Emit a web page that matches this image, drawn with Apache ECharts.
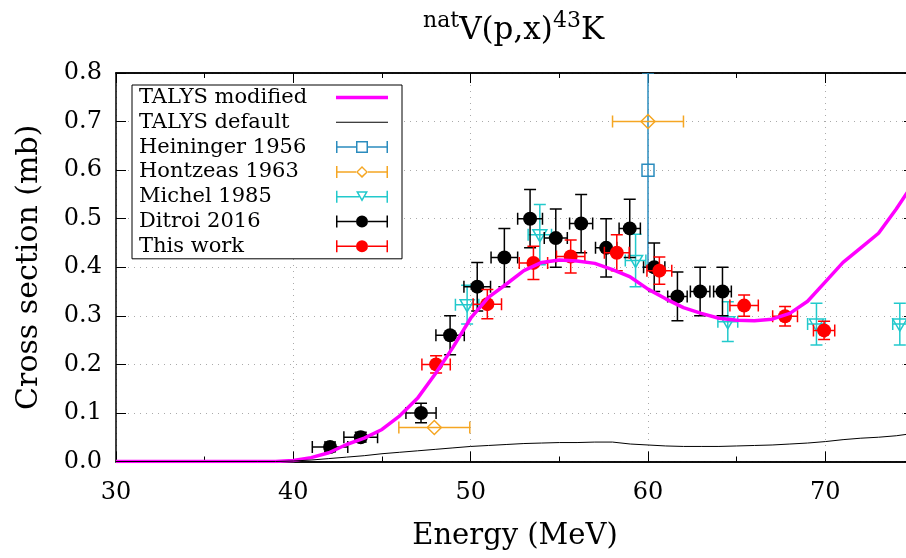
<!DOCTYPE html>
<html>
<head>
<meta charset="utf-8">
<title>natV(p,x)43K</title>
<script src="https://cdn.jsdelivr.net/npm/echarts@6.0.0/dist/echarts.min.js"></script>
<style>
  html, body { margin: 0; padding: 0; background: #fff; }
  #chart { width: 906px; height: 558px; }
</style>
</head>
<body>
<div id="chart"></div>
<script>
// curves: [energy MeV, cross section mb]
const talysModified = [
  [30, 0], [35, 0], [38, 0], [39, 0], [40, 0.002], [41, 0.008], [42, 0.018],
  [43, 0.035], [44, 0.048], [45, 0.066], [46, 0.094], [47, 0.13], [48, 0.18],
  [49, 0.235], [50, 0.295], [51, 0.338], [52, 0.365], [53, 0.393], [54, 0.41],
  [55, 0.415], [56, 0.413], [57, 0.408], [58, 0.395], [59, 0.38], [60, 0.355],
  [61, 0.335], [62, 0.317], [63, 0.305], [64, 0.295], [65, 0.291], [66, 0.29],
  [67, 0.293], [68, 0.305], [69, 0.33], [70, 0.37], [71, 0.41], [72, 0.44],
  [73, 0.47], [74, 0.52], [75, 0.575]
];
const talysDefault = [
  [30, 0], [38, 0], [39, 0], [40, 0.001], [41, 0.003], [42, 0.006], [43, 0.009],
  [44, 0.012], [45, 0.016], [46, 0.019], [47, 0.022], [48, 0.025], [49, 0.028],
  [50, 0.031], [51, 0.033], [52, 0.035], [53, 0.037], [54, 0.038], [55, 0.039],
  [56, 0.039], [57, 0.04], [58, 0.04], [59, 0.036], [60, 0.034], [61, 0.032],
  [62, 0.031], [63, 0.031], [64, 0.031], [65, 0.032], [66, 0.033], [67, 0.034],
  [68, 0.036], [69, 0.038], [70, 0.041], [71, 0.045], [72, 0.048], [73, 0.05],
  [74, 0.053], [75, 0.058]
];

// experiments: [energy, cross section, dE, dSigma]
const heininger1956 = [[60.0, 0.60, 0, 0.20]];
const hontzeas1963 = [[47.95, 0.07, 2.0, 0], [60.0, 0.70, 2.0, 0]];
const michel1985 = [
  [49.8, 0.323, 0.66, 0.04], [53.9, 0.467, 0.66, 0.062], [59.3, 0.414, 0.58, 0.054],
  [64.5, 0.288, 0.56, 0.041], [69.5, 0.283, 0.5, 0.043], [74.2, 0.283, 0.4, 0.043]
];
const ditroi2016 = [
  [42.07, 0.03, 1.0, 0.01], [43.8, 0.05, 0.95, 0.01], [47.2, 0.10, 0.85, 0.02],
  [48.84, 0.26, 0.8, 0.04], [50.37, 0.36, 0.75, 0.05], [51.9, 0.42, 0.75, 0.06],
  [53.35, 0.50, 0.7, 0.06], [54.8, 0.46, 0.65, 0.06], [56.23, 0.49, 0.65, 0.06],
  [57.64, 0.44, 0.6, 0.06], [58.97, 0.48, 0.6, 0.06], [60.35, 0.40, 0.6, 0.05],
  [61.66, 0.34, 0.55, 0.05], [62.94, 0.35, 0.55, 0.05], [64.2, 0.35, 0.5, 0.05]
];
const thisWork = [
  [48.05, 0.20, 0.8, 0.018], [50.94, 0.324, 0.8, 0.03], [53.54, 0.409, 0.8, 0.034],
  [55.64, 0.422, 0.8, 0.034], [58.24, 0.43, 0.7, 0.037], [60.64, 0.393, 0.7, 0.028],
  [65.42, 0.321, 0.8, 0.022], [67.73, 0.299, 0.7, 0.02], [69.93, 0.27, 0.6, 0.019]
];

const FONT = '"DejaVu Serif", "Liberation Serif", serif';

// legend samples, drawn in a 52x12 box
const BARS = 'M0 0H1.5V12H0Z M50.5 0H52V12H50.5Z ';
const iconSquare = 'path://' + BARS + 'M0 5.25H20V6.75H0Z M32 5.25H52V6.75H32Z M20 0H32V12H20Z M21.5 1.5V10.5H30.5V1.5Z';
const iconDiamond = 'path://' + BARS + 'M0 5.25H20V6.75H0Z M32 5.25H52V6.75H32Z M26 0L32 6L26 12L20 6Z M26 2.1L21.9 6L26 9.9L30.1 6Z';
const iconTriangle = 'path://' + BARS + 'M0 5.25H23.2V6.75H0Z M28.8 5.25H52V6.75H28.8Z M20 0.5H32L26 11Z M22.6 2L26 8L29.4 2Z';
const iconCircle = 'path://' + BARS + 'M0 5.25H20V6.75H0Z M32 5.25H52V6.75H32Z M20 6A6 6 0 1 1 32 6A6 6 0 1 1 20 6Z';
const iconThick = 'path://M0 0H52V3.5H0Z';
const iconThin = 'path://M0 0H52V1H0Z';

function marker(kind, cx, cy, color) {
  const hollow = { fill: 'none', stroke: color, lineWidth: 1.5 };
  if (kind === 'circle') return { type: 'circle', shape: { cx: cx, cy: cy, r: 7 }, style: { fill: color } };
  if (kind === 'square') return { type: 'rect', shape: { x: cx - 6, y: cy - 6, width: 12, height: 12 }, style: hollow };
  if (kind === 'diamond') return { type: 'polygon', shape: { points: [[cx, cy - 7], [cx + 7, cy], [cx, cy + 7], [cx - 7, cy]] }, style: hollow };
  return { type: 'polygon', shape: { points: [[cx - 7, cy - 5], [cx + 7, cy - 5], [cx, cy + 7]] }, style: hollow };
}

function errorSeries(name, data, color, kind) {
  return {
    type: 'custom',
    name: name,
    data: data,
    clip: true,
    itemStyle: { color: color },
    encode: { x: 0, y: 1 },
    renderItem: function (params, api) {
      const x = api.value(0), y = api.value(1), dx = api.value(2), dy = api.value(3);
      const c = api.coord([x, y]);
      const line = { stroke: color, lineWidth: 1.5 };
      const cap = 6;
      const kids = [];
      if (dx > 0) {
        const xl = api.coord([x - dx, y])[0], xr = api.coord([x + dx, y])[0];
        kids.push({ type: 'line', shape: { x1: xl, y1: c[1], x2: xr, y2: c[1] }, style: line });
        kids.push({ type: 'line', shape: { x1: xl, y1: c[1] - cap, x2: xl, y2: c[1] + cap }, style: line });
        kids.push({ type: 'line', shape: { x1: xr, y1: c[1] - cap, x2: xr, y2: c[1] + cap }, style: line });
      }
      if (dy > 0) {
        const yt = api.coord([x, y + dy])[1], yb = api.coord([x, y - dy])[1];
        kids.push({ type: 'line', shape: { x1: c[0], y1: yt, x2: c[0], y2: yb }, style: line });
        kids.push({ type: 'line', shape: { x1: c[0] - cap, y1: yt, x2: c[0] + cap, y2: yt }, style: line });
        kids.push({ type: 'line', shape: { x1: c[0] - cap, y1: yb, x2: c[0] + cap, y2: yb }, style: line });
      }
      kids.push(marker(kind, c[0], c[1], color));
      return { type: 'group', children: kids };
    }
  };
}

function xAxisDef(pos, interval, len, labels) {
  return {
    type: 'value', position: pos, min: 30, max: 75, interval: interval,
    axisLine: { show: true, onZero: false, lineStyle: { color: '#000', width: 1.5 } },
    axisTick: { show: true, inside: true, length: len, lineStyle: { color: '#000', width: 1 } },
    axisLabel: {
      show: labels, showMaxLabel: false, margin: 19,
      fontFamily: FONT, fontSize: 24, color: '#000'
    },
    splitLine: labels ? { show: true, lineStyle: { color: '#aaa', width: 1, type: [1, 5] } } : { show: false }
  };
}

const chart = echarts.init(document.getElementById('chart'), null, { renderer: 'canvas' });

const option = {
  animation: false,
  backgroundColor: '#fff',
  title: {
    text: '{sup|nat}{big|V(p,x)}{sup|43}{big|K}',
    left: 418,
    top: 5,
    textStyle: {
      fontWeight: 'normal',
      rich: {
        big: { fontFamily: FONT, fontSize: 31, fontWeight: 'normal', color: '#000', lineHeight: 36, verticalAlign: 'bottom' },
        sup: { fontFamily: FONT, fontSize: 22, fontWeight: 'normal', color: '#000', lineHeight: 20, verticalAlign: 'top' }
      }
    }
  },
  grid: { left: 116, right: -8, top: 73, bottom: 96.5, outerBoundsMode: 'none', containLabel: false },
  legend: {
    orient: 'vertical',
    left: 132,
    top: 85,
    align: 'right',
    itemWidth: 52,
    itemHeight: 12,
    itemGap: 3.8,
    padding: [2, 14, 2, 7],
    borderColor: '#000',
    borderWidth: 1,
    backgroundColor: '#fff',
    selectedMode: false,
    formatter: function (n) { return '{t|' + n + '}'; },
    textStyle: {
      fontFamily: FONT, fontSize: 21, color: '#000', lineHeight: 21,
      rich: { t: { width: 192, align: 'left', fontFamily: FONT, fontSize: 21, lineHeight: 21, color: '#000' } }
    },
    data: [
      { name: 'TALYS modified', icon: iconThick, itemStyle: { borderWidth: 0 } },
      { name: 'TALYS default', icon: iconThin, itemStyle: { borderWidth: 0 } },
      { name: 'Heininger 1956', icon: iconSquare },
      { name: 'Hontzeas 1963', icon: iconDiamond },
      { name: 'Michel 1985', icon: iconTriangle },
      { name: 'Ditroi 2016', icon: iconCircle },
      { name: 'This work', icon: iconCircle }
    ]
  },
  xAxis: [
    Object.assign(xAxisDef('bottom', 10, 10, true), {
      name: 'Energy (MeV)', nameLocation: 'middle', nameGap: 60,
      nameTextStyle: { fontFamily: FONT, fontSize: 29, color: '#000' }
    }),
    xAxisDef('bottom', 5, 5, false),
    xAxisDef('top', 10, 10, false),
    xAxisDef('top', 5, 5, false)
  ],
  yAxis: [
    {
      type: 'value', position: 'left', min: 0, max: 0.8, interval: 0.1,
      name: 'Cross section (mb)', nameLocation: 'middle', nameGap: 72,
      nameTextStyle: { fontFamily: FONT, fontSize: 30, color: '#000' },
      axisLine: { show: true, onZero: false, lineStyle: { color: '#000', width: 1.5 } },
      axisTick: { show: true, inside: true, length: 10, lineStyle: { color: '#000' } },
      axisLabel: {
        margin: 14, fontFamily: FONT, fontSize: 24, color: '#000',
        formatter: function (v) { return v.toFixed(1); }
      },
      splitLine: { show: true, lineStyle: { color: '#aaa', width: 1, type: [1, 5] } }
    },
    {
      type: 'value', position: 'right', min: 0, max: 0.8, interval: 0.1,
      axisLine: { show: true, onZero: false, lineStyle: { color: '#000', width: 1.5 } },
      axisTick: { show: true, inside: true, length: 10, lineStyle: { color: '#000' } },
      axisLabel: { show: false },
      splitLine: { show: false }
    }
  ],
  series: [
    {
      type: 'line', name: 'TALYS modified', data: talysModified, symbol: 'none',
      lineStyle: { color: '#ff00ff', width: 3.5 }, itemStyle: { color: '#ff00ff' }, z: 2
    },
    {
      type: 'line', name: 'TALYS default', data: talysDefault, symbol: 'none',
      lineStyle: { color: '#000', width: 1 }, itemStyle: { color: '#000' }, z: 2
    },
    errorSeries('Heininger 1956', heininger1956, '#2b8cbe', 'square'),
    errorSeries('Hontzeas 1963', hontzeas1963, '#f5a623', 'diamond'),
    errorSeries('Michel 1985', michel1985, '#22c9cc', 'triangle'),
    errorSeries('Ditroi 2016', ditroi2016, '#000000', 'circle'),
    errorSeries('This work', thisWork, '#ff0000', 'circle')
  ]
};

chart.setOption(option);
</script>
</body>
</html>
